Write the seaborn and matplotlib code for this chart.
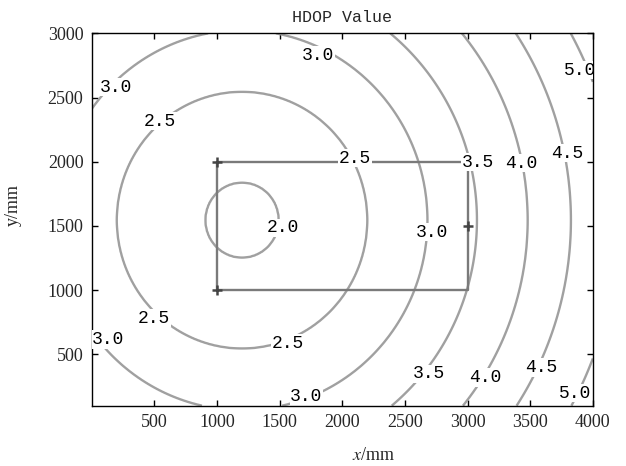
import numpy as np
import pandas as pd
import matplotlib
matplotlib.use("Agg")
import matplotlib.pyplot as plt
import seaborn as sns

# HDOP contour levels and the radius (mm) of each ring around the field centre
levels = [2.0, 2.5, 3.0, 3.5, 4.0, 4.5, 5.0]
ring_radius = [293, 1000, 1480, 1875, 2280, 2625, 3000]
centre_x, centre_y = 1200, 1545
# value at the centre and just beyond the outermost ring
inner_value, inner_radius = 1.9, 0
outer_value, outer_radius = 5.5, 3400

# test area outline and anchor stations (mm)
rect_x = [1000, 3000, 3000, 1000, 1000]
rect_y = [2000, 2000, 1000, 1000, 2000]
anchor_x = [1000, 1000, 3000, 1500]
anchor_y = [2000, 1000, 1500, 1500]

# where each contour label sits (mm)
label_pos = [
    (1805, 2831), (195, 2581), (546, 2316), (2100, 2029), (1527, 1485),
    (2715, 1452), (3082, 1997), (3427, 1989), (3795, 2066), (3896, 2714),
    (497, 782), (131, 616), (1562, 585), (1714, 174), (2693, 349),
    (3138, 318), (3592, 396), (3856, 198),
]

xticks = [500, 1000, 1500, 2000, 2500, 3000, 3500, 4000]
yticks = [500, 1000, 1500, 2000, 2500, 3000]

sns.set_theme(style="white")
plt.rcParams["font.family"] = ["Liberation Serif", "DejaVu Serif"]
plt.rcParams["mathtext.fontset"] = "stix"

fig = plt.figure(figsize=(6.26, 4.66), dpi=100)
ax = fig.add_axes([0.1465, 0.1294, 0.8005, 0.7991])

# HDOP field on a grid, built from the ring radii
gx = np.linspace(0, 4000, 401)
gy = np.linspace(100, 3000, 291)
GX, GY = np.meshgrid(gx, gy)
dist = np.hypot(GX - centre_x, GY - centre_y)
knots_r = [inner_radius] + ring_radius + [outer_radius]
knots_v = [inner_value] + levels + [outer_value]
Z = np.interp(dist, knots_r, knots_v)

cs = ax.contour(GX, GY, Z, levels=levels, colors="#a0a0a0", linewidths=1.7, zorder=2)

# test area outline and anchors
outline = pd.DataFrame({"x": rect_x, "y": rect_y})
sns.lineplot(data=outline, x="x", y="y", sort=False, estimator=None,
             color="#7a7a7a", linewidth=1.7, ax=ax, zorder=3)
anchors = pd.DataFrame({"x": anchor_x, "y": anchor_y})
sns.scatterplot(data=anchors, x="x", y="y", marker="+", s=45, color="#444444",
                linewidth=1.8, ax=ax, zorder=4)

labels = ax.clabel(cs, levels, manual=label_pos, inline=False,
                   fmt=lambda v: f"{v:.1f}", fontsize=13, colors="black")
for t, pos in zip(labels, label_pos):
    t.set_position(pos)
    t.set_rotation(0)
    t.set_family(["Liberation Mono", "DejaVu Sans Mono"])
    t.set_bbox(dict(facecolor="white", edgecolor="none", pad=0.5))
    t.set_zorder(6)

ax.set_xlim(0, 4000)
ax.set_ylim(100, 3000)
ax.set_xticks(xticks)
ax.set_yticks(yticks)
ax.tick_params(direction="in", length=4, width=1, labelsize=13, color="black",
               top=True, right=True, bottom=True, left=True, pad=6)
for sp in ax.spines.values():
    sp.set_visible(True)
    sp.set_color("black")
    sp.set_linewidth(1.0)

ax.set_title("HDOP Value", fontsize=12, family=["Liberation Mono", "DejaVu Sans Mono"], pad=8)
ax.set_xlabel(r"$x$/mm", fontsize=13)
ax.set_ylabel("y/mm", fontsize=13)
ax.xaxis.set_label_coords(0.563, -0.112)
ax.yaxis.set_label_coords(-0.14, 0.539)

fig.savefig("out.png", dpi=100, facecolor="white")
